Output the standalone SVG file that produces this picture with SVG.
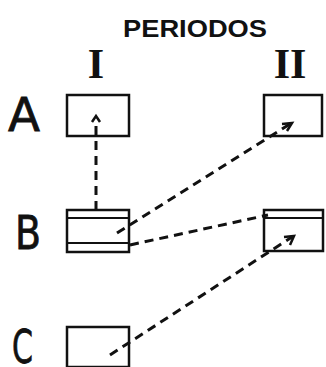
<svg xmlns="http://www.w3.org/2000/svg" width="326" height="367" viewBox="0 0 326 367">
<style>
.box{fill:#fff;stroke:#111;stroke-width:2.5}
.in{stroke:#111;stroke-width:2.2}
.lab{font-family:"DejaVu Sans","Liberation Sans",sans-serif;font-size:46px;fill:#111;stroke:#111;stroke-width:0.8}
.per{font-family:"Liberation Sans",sans-serif;font-weight:bold;font-size:23px;fill:#111}
.rom{font-family:"Liberation Serif",serif;font-weight:bold;font-size:42px;fill:#111}
.dash{fill:none;stroke:#111;stroke-width:3;stroke-dasharray:9 6}
.tip{fill:none;stroke:#111;stroke-width:2.5}
</style>
<rect width="326" height="367" fill="#fff"/>
<g id="title"><text class="per" x="123" y="37" textLength="144" lengthAdjust="spacingAndGlyphs">PERIODOS</text></g>
<g id="col-I"><text class="rom" x="96" y="78" text-anchor="middle">I</text></g>
<g id="col-II"><text class="rom" x="290" y="78" text-anchor="middle">II</text></g>
<g id="row-A"><text class="lab" x="8" y="131" textLength="32" lengthAdjust="spacingAndGlyphs">A</text></g>
<g id="row-B"><text class="lab" x="15" y="249" textLength="26" lengthAdjust="spacingAndGlyphs">B</text></g>
<g id="row-C"><text class="lab" x="12" y="363" textLength="21" lengthAdjust="spacingAndGlyphs">C</text></g>
<g id="A-I"><rect class="box" x="67" y="95" width="62" height="41"/></g>
<g id="A-II"><rect class="box" x="264" y="95" width="58" height="41"/></g>
<g id="B-I"><rect class="box" x="67" y="210" width="62" height="42"/><line class="in" x1="67" y1="218" x2="129" y2="218"/><line class="in" x1="67" y1="243" x2="129" y2="243"/></g>
<g id="B-II"><rect class="box" x="264" y="210" width="59" height="41"/><line class="in" x1="264" y1="218" x2="323" y2="218"/></g>
<g id="C-I"><rect class="box" x="67" y="327" width="62" height="40"/></g>
<g id="connectors">
<path class="dash" d="M96 210 L96 120"/>
<path class="tip" d="M92 122 L96 116 L100 122"/>
<path class="dash" d="M117 233 L290 124"/>
<path class="tip" d="M282 124 L292 123 L287 131"/>
<path class="dash" d="M130 245 L268 215"/>
<path class="dash" d="M110 355 L292 237"/>
<path class="tip" d="M284 237 L294 236 L290 245"/>
</g>
</svg>
